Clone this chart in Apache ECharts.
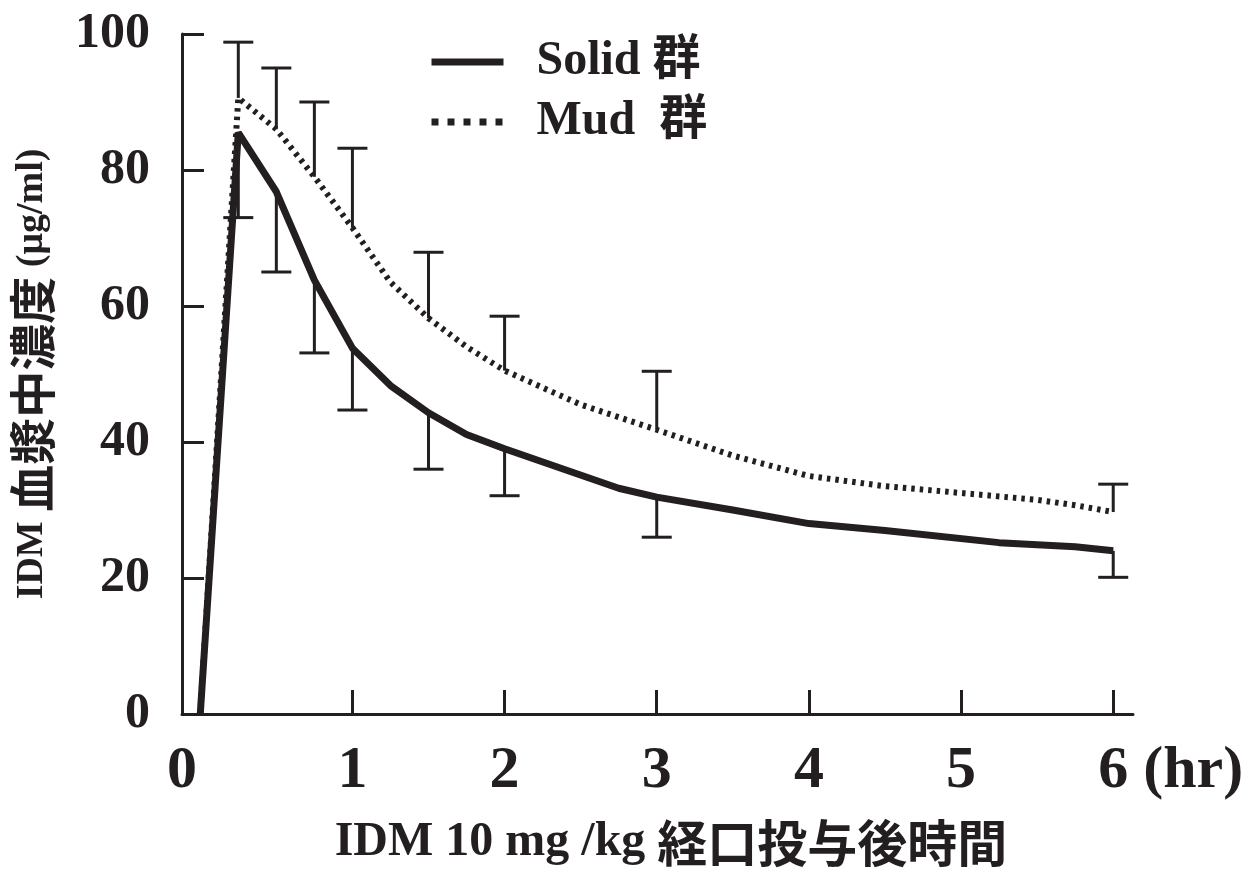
<!DOCTYPE html>
<html>
<head>
<meta charset="utf-8">
<script src="https://cdn.jsdelivr.net/npm/echarts@6/dist/echarts.min.js"></script>
<style>html,body{margin:0;padding:0;background:#fff;}#c{width:1254px;height:873px;}</style>
</head>
<body>
<div id="c"></div>
<script>
// ---- data ----
const solidTimes  = [0, 0.25, 0.5, 0.75, 1, 1.25, 1.5, 1.75, 2, 2.75, 3, 3.5, 4, 4.5, 5.25, 5.75, 6];
const solidValues = [0, 85.5, 76.8, 63.8, 53.8, 48.3, 44.3, 41.1, 39.0, 33.2, 31.9, 30.0, 28.0, 27.0, 25.2, 24.6, 24.0];
const mudTimes    = [0, 0.25, 0.5, 0.75, 1, 1.25, 1.5, 1.75, 2, 2.5, 3, 3.5, 4, 4.5, 5, 5.5, 5.75, 6];
const mudValues   = [0, 90.6, 86.0, 79.0, 71.5, 63.5, 58.2, 54.0, 50.5, 45.5, 41.8, 38.0, 35.0, 33.5, 32.5, 31.5, 30.7, 29.7];
const errTimes    = [0.25, 0.5, 0.75, 1, 1.5, 2, 3, 6];
const solidLower  = [73, 65, 53.1, 44.7, 36, 32.1, 26, 20.1];
const mudUpper    = [98.8, 95, 90, 83.2, 67.9, 58.5, 50.4, 33.8];
const xTickValues = [1, 2, 3, 4, 5, 6];
const xLabelValues = [-0.12, 1, 2, 3, 4, 5, 6];
const seriesNames = ['Solid 群', 'Mud  群'];
const xTitleLatin = 'IDM 10 mg /kg';
const xTitleCJK   = '経口投与後時間';
const yTitleLatin1 = 'IDM';
const yTitleCJK    = '血漿中濃度';
const yTitleLatin2 = '(μg/ml)';

const INK = '#231f20';
const SERIF = "'Liberation Serif', 'Noto Sans CJK JP', serif";
const CJK = "'Noto Sans CJK JP', sans-serif";

function valAt(times, vals, t) { return vals[times.indexOf(t)]; }
const solidErr = errTimes.map((t, i) => [t, valAt(solidTimes, solidValues, t), solidLower[i]]);
const mudErr   = errTimes.map((t, i) => [t, valAt(mudTimes, mudValues, t), mudUpper[i]]);

function errRender(params, api) {
  const t = api.value(0), m = api.value(1), b = api.value(2);
  const p0 = api.coord([t, m]);
  const p1 = api.coord([t, b]);
  const half = 15;
  const st = { stroke: INK, lineWidth: 3, fill: null };
  return {
    type: 'group',
    children: [
      { type: 'line', shape: { x1: p0[0], y1: p0[1], x2: p1[0], y2: p1[1] }, style: st },
      { type: 'line', shape: { x1: p1[0] - half, y1: p1[1], x2: p1[0] + half, y2: p1[1] }, style: st }
    ]
  };
}

const chart = echarts.init(document.getElementById('c'), null, { renderer: 'canvas' });
chart.setOption({
  animation: false,
  backgroundColor: '#fff',
  grid: { left: 182, top: 34, right: 121, bottom: 159, containLabel: false, outerBoundsMode: 'none' },
  legend: {
    orient: 'vertical',
    left: 423, top: 30,
    itemWidth: 72, itemHeight: 14, itemGap: 6,
    itemStyle: { opacity: 0 },
    textStyle: { fontFamily: SERIF, fontWeight: 'bold', fontSize: 48, color: INK, lineHeight: 54, padding: [0, 0, 0, 28] },
    data: [
      { name: seriesNames[0], lineStyle: { width: 7, type: 'solid' } },
      { name: seriesNames[1], lineStyle: { width: 7, type: [7, 9] } }
    ]
  },
  xAxis: {
    type: 'value', min: -0.12, max: 6.13,
    axisLine: { show: true, onZero: false, lineStyle: { color: INK, width: 3 } },
    axisTick: { show: true, inside: true, length: 24, lineStyle: { color: INK, width: 3 }, customValues: xTickValues },
    splitLine: { show: false },
    axisLabel: {
      customValues: xLabelValues,
      margin: 27,
      fontFamily: SERIF, fontWeight: 'bold', fontSize: 60, color: INK,
      formatter: function (v) {
        if (v < 0) return '0';
        if (v === 6) return '{pad|}{n|6}{u| (hr)}';
        return String(v);
      },
      rich: {
        pad: { width: 115 },
        n: { fontFamily: SERIF, fontWeight: 'bold', fontSize: 60, color: INK },
        u: { fontFamily: SERIF, fontWeight: 'bold', fontSize: 60, color: INK, width: 115, align: 'left' }
      }
    },
    name: '{a|' + xTitleLatin + ' }{b|' + xTitleCJK + '}',
    nameLocation: 'middle',
    nameGap: 104,
    nameTextStyle: {
      padding: [0, 0, 0, 27],
      rich: {
        a: { fontFamily: SERIF, fontWeight: 'bold', fontSize: 48, color: INK },
        b: { fontFamily: CJK, fontWeight: 'bold', fontSize: 50, color: INK }
      }
    }
  },
  yAxis: {
    type: 'value', min: 0, max: 100, interval: 20,
    axisLine: { show: true, onZero: false, lineStyle: { color: INK, width: 3 } },
    axisTick: { show: true, inside: true, length: 22, lineStyle: { color: INK, width: 3 } },
    splitLine: { show: false },
    axisLabel: { margin: 32, fontFamily: SERIF, fontWeight: 'bold', fontSize: 50, color: INK },
    name: '{a|' + yTitleLatin1 + ' }{b|' + yTitleCJK + '}{a| ' + yTitleLatin2 + '}',
    nameLocation: 'middle',
    nameRotate: 90,
    nameGap: 126,
    nameTextStyle: {
      rich: {
        a: { fontFamily: SERIF, fontWeight: 'bold', fontSize: 38, color: INK },
        b: { fontFamily: CJK, fontWeight: 'bold', fontSize: 47, color: INK }
      }
    }
  },
  series: [
    {
      name: seriesNames[0], type: 'line', symbol: 'none',
      data: solidTimes.map((t, i) => [t, solidValues[i]]),
      lineStyle: { color: INK, width: 7, type: 'solid' },
      itemStyle: { color: INK }, z: 3
    },
    {
      name: seriesNames[1], type: 'line', symbol: 'none',
      data: mudTimes.map((t, i) => [t, mudValues[i]]),
      lineStyle: { color: INK, width: 6, type: [3.5, 5], cap: 'butt' },
      itemStyle: { color: INK }, z: 3
    },
    { type: 'custom', renderItem: errRender, data: solidErr, z: 2, silent: true },
    { type: 'custom', renderItem: errRender, data: mudErr, z: 2, silent: true }
  ]
});
</script>
</body>
</html>
